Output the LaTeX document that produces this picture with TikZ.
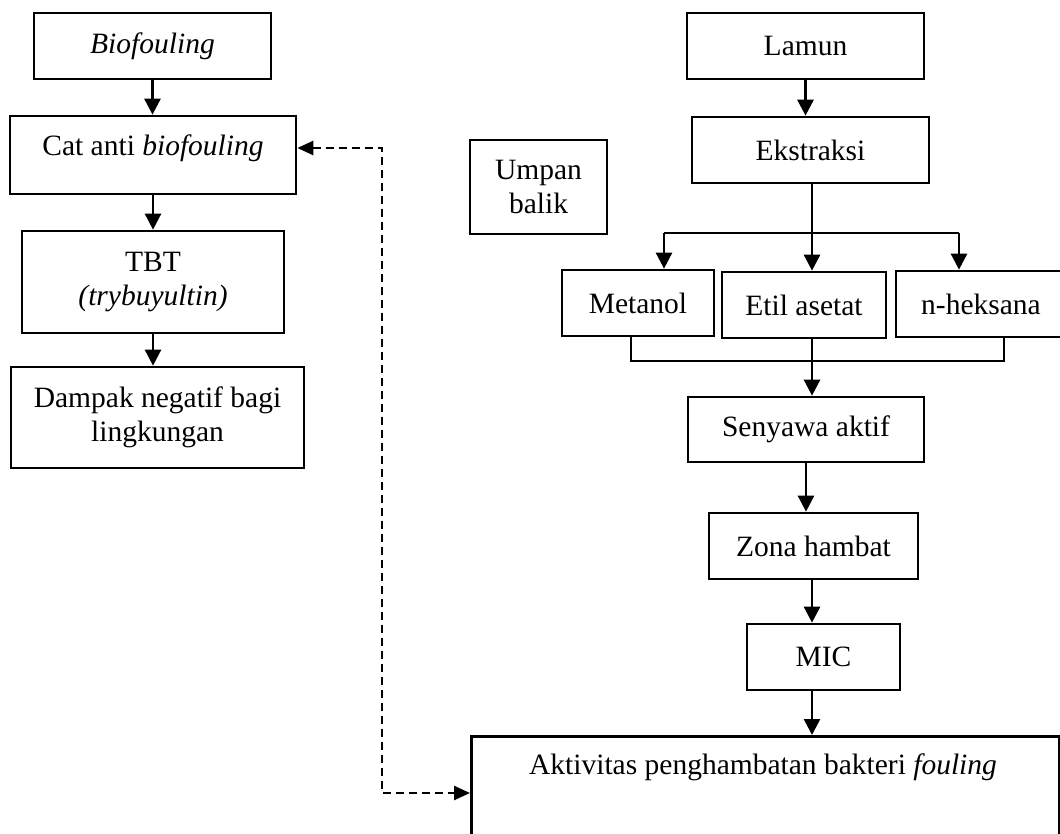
\documentclass[tikz,border=0pt]{standalone}
\usepackage{fontspec}
\setmainfont{Liberation Serif}
\usetikzlibrary{arrows.meta}
\begin{document}
\begin{tikzpicture}[x=1pt,y=-1pt,
  flowbox/.style={draw, line width=2.7pt, rectangle, inner sep=0pt, align=center, font=\fontsize{29.5}{34}\selectfont},
  txt/.style={inner sep=0pt, align=center, font=\fontsize{29.5}{34}\selectfont},
  ln/.style={line width=2.7pt},
  arr/.style={line width=2.7pt, -{Triangle[length=16pt,width=16pt]}},
  dasharr/.style={line width=2.5pt, dash pattern=on 8pt off 5pt, {Triangle[length=16pt,width=14pt]}-{Triangle[length=16pt,width=14pt]}}]
\useasboundingbox (0,0) rectangle (1060,834);
\clip (0,0) rectangle (1060,834);
\fill[white] (0,0) rectangle (1060,834);

% left column
\node[flowbox, minimum width=237pt, minimum height=66pt] (bio) at (152.5,46) {\textit{Biofouling}};
\node[flowbox, minimum width=286pt, minimum height=78pt] (cat) at (153,155) {};
\node[txt] (cattext) at (153,148) {Cat anti \textit{biofouling}};
\node[flowbox, minimum width=262pt, minimum height=102pt] (tbt) at (153,282) {TBT\\\textit{(trybuyultin)}};
\node[flowbox, minimum width=293pt, minimum height=101pt] (dampak) at (157.5,417.5) {Dampak negatif bagi\\lingkungan};

% feedback
\node[flowbox, minimum width=137pt, minimum height=94pt] (umpan) at (538.5,187) {Umpan\\balik};

% right column
\node[flowbox, minimum width=237pt, minimum height=66pt] (lamun) at (805.5,46) {Lamun};
\node[flowbox, minimum width=237pt, minimum height=66pt] (eks) at (810.5,150) {Ekstraksi};
\node[flowbox, minimum width=152pt, minimum height=66pt] (met) at (638,303) {Metanol};
\node[flowbox, minimum width=164pt, minimum height=66pt] (etil) at (804,305) {Etil asetat};
\node[flowbox, minimum width=170pt, minimum height=66pt] (hek) at (981,304) {n-heksana};
\node[flowbox, minimum width=236pt, minimum height=65pt] (sen) at (806,429.5) {Senyawa aktif};
\node[flowbox, minimum width=209pt, minimum height=66pt] (zona) at (813.5,546) {Zona hambat};
\node[flowbox, minimum width=153pt, minimum height=66pt] (mic) at (823.5,657) {MIC};
\node[flowbox, minimum width=588pt, minimum height=130pt, anchor=north west] (akt) at (470,735) {};
\node[txt] (akttext) at (763,767) {Aktivitas penghambatan bakteri \textit{fouling}};

% helper coordinates
\coordinate (split) at (812,233);
\coordinate (splitL) at (664,233);
\coordinate (splitR) at (959,233);
\coordinate (joinL) at (631,361);
\coordinate (joinM) at (812,361);
\coordinate (joinR) at (1004,361);
\coordinate (dashTop) at (382,148);
\coordinate (dashBot) at (382,793);

% left connectors
\draw[arr] (bio.south) -- (bio.south |- cat.north);
\draw[arr] (cat.south) -- (cat.south |- tbt.north);
\draw[arr] (tbt.south) -- (tbt.south |- dampak.north);

% right connectors
\draw[arr] (lamun.south) -- (lamun.south |- eks.north);
\draw[ln] (eks.south -| split) -- (split);
\draw[ln] (splitL) -- (splitR);
\draw[arr] (splitL) -- (splitL |- met.north);
\draw[arr] (split) -- (split |- etil.north);
\draw[arr] (splitR) -- (splitR |- hek.north);
\draw[ln] (joinL |- met.south) -- (joinL) -- (joinR) -- (joinR |- hek.south);
\draw[ln] (joinM |- etil.south) -- (joinM);
\draw[arr] (joinM) -- (joinM |- sen.north);
\draw[arr] (sen.south) -- (sen.south |- zona.north);
\draw[arr] (zona.south -| joinM) -- (joinM |- mic.north);
\draw[arr] (mic.south -| joinM) -- (joinM |- akt.north);

% feedback dashed connector
\draw[dasharr] (dashTop -| cat.east) -- (dashTop) -- (dashBot) -- (dashBot -| akt.west);
\end{tikzpicture}
\end{document}
